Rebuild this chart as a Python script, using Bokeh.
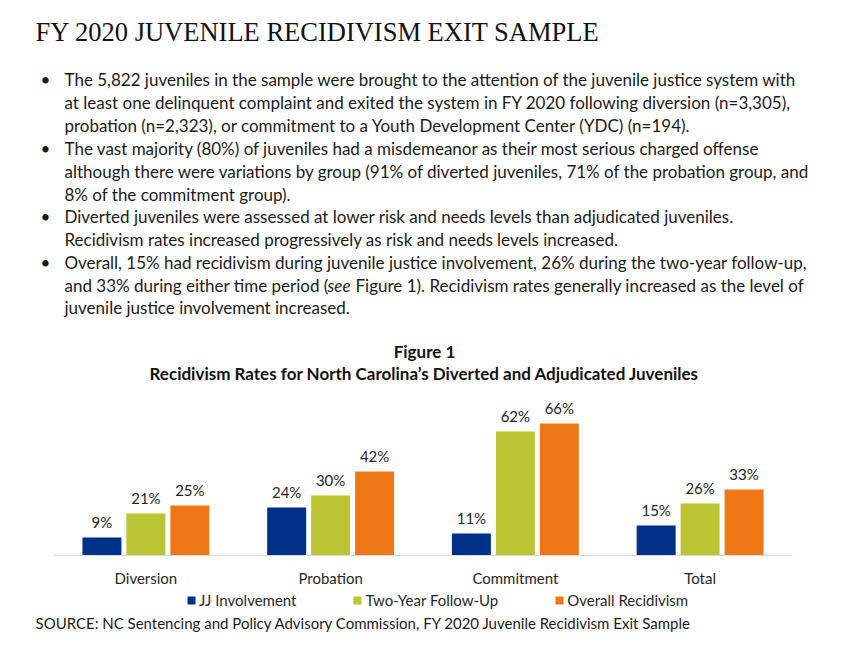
from bokeh.plotting import figure
from bokeh.models import FactorRange, Range1d, Label, Legend, LegendItem, ColumnDataSource
from bokeh.transform import dodge
from bokeh.core.properties import value
from bokeh.embed import file_html
from bokeh.resources import INLINE

# ---------------- data ----------------
categories = ["Diversion", "Probation", "Commitment", "Total"]
jj_involvement = [9, 24, 11, 15]
two_year_follow_up = [21, 30, 62, 26]
overall_recidivism = [25, 42, 66, 33]
series_names = ["JJ Involvement", "Two-Year Follow-Up", "Overall Recidivism"]

page_title = "FY 2020 JUVENILE RECIDIVISM EXIT SAMPLE"
figure_label = "Figure 1"
figure_title = "Recidivism Rates for North Carolina\u2019s Diverted and Adjudicated Juveniles"
source_note = "SOURCE: NC Sentencing and Policy Advisory Commission, FY 2020 Juvenile Recidivism Exit Sample"

bullet_1 = [
    "The 5,822 juveniles in the sample were brought to the attention of the juvenile justice system with",
    "at least one delinquent complaint and exited the system in FY 2020 following diversion (n=3,305),",
    "probation (n=2,323), or commitment to a Youth Development Center (YDC) (n=194).",
]
bullet_2 = [
    "The vast majority (80%) of juveniles had a misdemeanor as their most serious charged offense",
    "although there were variations by group (91% of diverted juveniles, 71% of the probation group, and",
    "8% of the commitment group).",
]
bullet_3 = [
    "Diverted juveniles were assessed at lower risk and needs levels than adjudicated juveniles.",
    "Recidivism rates increased progressively as risk and needs levels increased.",
]
bullet_4_line_1 = "Overall, 15% had recidivism during juvenile justice involvement, 26% during the two-year follow-up,"
bullet_4_line_2 = ["and 33% during either time period (", "see", "Figure 1). Recidivism rates generally increased as the level of"]
bullet_4_line_3 = "juvenile justice involvement increased."

# ---------------- style ----------------
BLUE, GREEN, ORANGE = "#003189", "#BBC433", "#F07716"
TXT = "#1a1a1a"
FONT = "Lato"
W, H = 845, 655

def pct(vals):
    return [f"{v}%" for v in vals]

src = ColumnDataSource(dict(
    cat=categories,
    jj=jj_involvement, two=two_year_follow_up, ov=overall_recidivism,
    jj_l=pct(jj_involvement), two_l=pct(two_year_follow_up), ov_l=pct(overall_recidivism),
))

p = figure(width=W, height=H,
           x_range=FactorRange(*categories, range_padding=0.287, range_padding_units="absolute"),
           y_range=Range1d(-50, 277.5),
           output_backend="svg", toolbar_location=None, min_border=0,
           x_axis_location=None, y_axis_location=None)
p.xgrid.grid_line_color = None
p.ygrid.grid_line_color = None
p.outline_line_color = None
p.background_fill_color = "white"
p.border_fill_color = "white"

BW = 0.211
OFF = 0.238
renderers = []
for off, col, lab, color in [(-OFF, "jj", "jj_l", BLUE), (0, "two", "two_l", GREEN), (OFF, "ov", "ov_l", ORANGE)]:
    r = p.vbar(x=dodge("cat", off, range=p.x_range), top=col, width=BW, source=src,
               fill_color=color, line_color=None)
    renderers.append(r)
    p.text(x=dodge("cat", off, range=p.x_range), y=col, text=lab, source=src,
           text_align="center", text_baseline="alphabetic", y_offset=-16,
           text_font=value(FONT), text_font_size="15px", text_color="#262626")

# baseline (category axis line)
p.line(x=[0, len(categories)], y=[0, 0], line_color="#D9D9D9", line_width=1)

# category labels
p.text(x="cat", y=0, text="cat", source=src, text_align="center", text_baseline="middle",
       y_offset=22, text_font=value(FONT), text_font_size="15px", text_color="#262626")

legend = Legend(items=[LegendItem(label=n, renderers=[r]) for n, r in zip(series_names, renderers)],
                orientation="horizontal", location=(186, 46), padding=0, margin=0,
                border_line_color=None, background_fill_alpha=0,
                glyph_width=10, glyph_height=10, label_standoff=3, spacing=56,
                label_text_font=FONT, label_text_font_size="15px", label_text_color="#262626",
                label_height=18)
p.add_layout(legend)

def add_text(txt, px, py, size, font=FONT, style="normal", color=TXT, align="left"):
    p.add_layout(Label(x=px, y=H - py, x_units="screen", y_units="screen", text=txt,
                       text_font=font, text_font_size=f"{size}px", text_font_style=style,
                       text_color=color, text_align=align, text_baseline="middle"))

add_text(page_title, 35, 31, 26.5, font="Liberation Serif", color="#111111")

line_ys = [79, 102, 125, 148, 171, 194, 216, 239, 262, 285, 307]
all_lines = bullet_1 + bullet_2 + bullet_3 + [bullet_4_line_1, None, bullet_4_line_3]
bullet_starts = {0, 3, 6, 8}
for i, (ln, y) in enumerate(zip(all_lines, line_ys)):
    if i in bullet_starts:
        add_text("\u2022", 40, y, 17)
    if ln is not None:
        add_text(ln, 64, y, 17)
    else:
        add_text(bullet_4_line_2[0], 64, y, 17)
        add_text(bullet_4_line_2[1], 327, y, 17, style="italic")
        add_text(bullet_4_line_2[2], 355, y, 17)

add_text(figure_label, 424, 351, 17, style="bold", align="center", color="#111111")
add_text(figure_title, 424, 373, 17, style="bold", align="center", color="#111111")
add_text(source_note, 35, 622, 15, color=TXT)

open("out.html", "w").write(file_html(p, INLINE))
